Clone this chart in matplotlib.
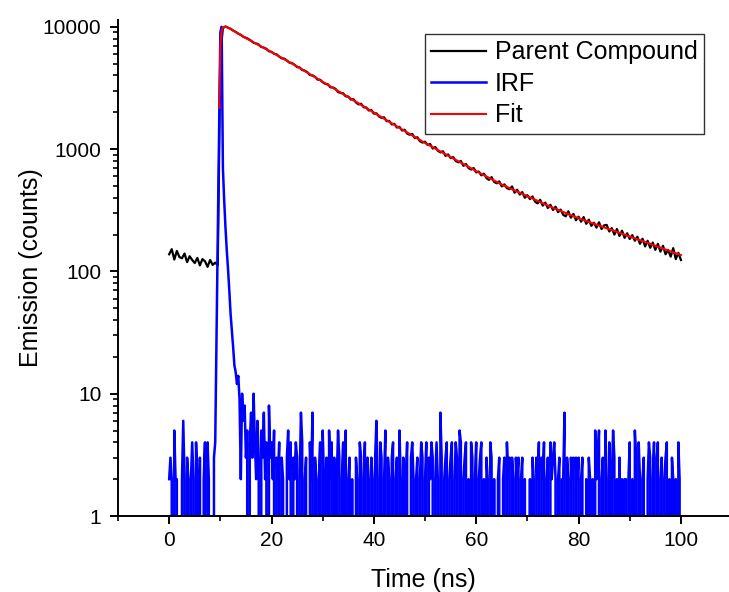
import numpy as np
import matplotlib
matplotlib.use("Agg")
import matplotlib.pyplot as plt
from matplotlib.ticker import LogLocator, MultipleLocator, NullFormatter

plt.rcParams['font.family'] = ['Liberation Sans', 'DejaVu Sans']

# ------------------------------------------
# Data
# ------------------------------------------

# Parent compound decay, one value every 0.5 ns from 0 to 100 ns
parent_step = 0.5
parent_counts = [
    138, 152, 125, 147, 131, 128, 140, 119, 133, 124,
    117, 129, 112, 126, 121, 109, 124, 113, 118, 112,
    6000, 9750, 10080, 9820, 9640, 9320, 9080, 8790, 8600, 8280,
    8130, 7950, 7700, 7390, 7310, 7150, 6840, 6760, 6600, 6310,
    6240, 6010, 5950, 5700, 5520, 5490, 5300, 5090, 5050, 4890,
    4680, 4650, 4430, 4380, 4250, 4030, 4010, 3900, 3700, 3690,
    3520, 3420, 3390, 3200, 3190, 3110, 2930, 2880, 2860, 2700,
    2690, 2540, 2560, 2410, 2320, 2350, 2200, 2190, 2070, 2090,
    1950, 1960, 1850, 1800, 1820, 1690, 1700, 1590, 1610, 1500,
    1520, 1420, 1440, 1340, 1310, 1330, 1230, 1250, 1160, 1130,
    1150, 1080, 1100, 1010, 1040, 970, 940, 960, 880, 905,
    845, 860, 800, 780, 800, 730, 755, 700, 680, 700,
    645, 655, 610, 630, 580, 560, 590, 540, 525, 545,
    495, 515, 480, 470, 495, 440, 465, 425, 445, 400,
    420, 390, 410, 372, 360, 385, 345, 365, 330, 350,
    318, 338, 305, 320, 290, 282, 310, 275, 295, 262,
    280, 255, 278, 245, 265, 236, 250, 228, 252, 222,
    238, 240, 212, 226, 200, 222, 195, 215, 188, 205,
    184, 198, 178, 192, 168, 185, 160, 178, 156, 172,
    150, 168, 145, 162, 138, 150, 132, 155, 126, 142,
    124,
]

# Instrument response, one value every 0.25 ns from 0 to 100 ns
irf_step = 0.25
irf_counts = [
    2, 3, 2, 0, 5, 2, 2, 0, 0, 0, 2, 6, 2, 0, 3, 2, 0, 2, 4, 2,
    0, 4, 2, 0, 3, 0, 0, 2, 4, 0, 4, 2, 0, 0, 0, 3, 4, 30, 200, 1400,
    9000, 10000, 700, 380, 230, 150, 105, 70, 45, 33, 24, 17, 15, 12, 14, 9, 2, 10, 6, 8,
    3, 5, 0, 4, 7, 3, 10, 4, 2, 6, 3, 0, 5, 3, 7, 2, 4, 0, 8, 3,
    4, 2, 5, 0, 3, 2, 4, 0, 3, 2, 0, 0, 3, 5, 2, 4, 0, 3, 2, 4,
    3, 0, 2, 7, 4, 0, 2, 3, 0, 0, 4, 2, 7, 0, 3, 2, 0, 2, 4, 0,
    5, 2, 0, 3, 0, 5, 2, 4, 0, 3, 0, 2, 5, 3, 0, 2, 4, 0, 5, 0,
    2, 3, 0, 2, 0, 0, 3, 2, 0, 4, 3, 0, 2, 4, 0, 3, 2, 0, 3, 2,
    0, 3, 6, 2, 0, 4, 3, 0, 2, 5, 0, 3, 2, 0, 3, 4, 0, 2, 3, 0,
    5, 2, 0, 3, 0, 2, 4, 0, 0, 3, 4, 2, 0, 2, 3, 0, 2, 4, 3, 0,
    2, 4, 0, 3, 2, 4, 3, 0, 2, 4, 2, 0, 7, 3, 0, 2, 3, 4, 0, 2,
    3, 4, 0, 2, 4, 3, 0, 5, 4, 0, 2, 3, 4, 0, 2, 0, 4, 3, 0, 2,
    4, 0, 2, 3, 4, 0, 2, 0, 3, 2, 0, 4, 3, 0, 2, 0, 0, 2, 3, 0,
    0, 2, 3, 0, 4, 2, 3, 0, 3, 2, 0, 3, 2, 3, 0, 2, 3, 0, 2, 0,
    0, 0, 2, 0, 3, 2, 0, 3, 2, 4, 0, 3, 2, 4, 0, 2, 3, 0, 4, 2,
    3, 4, 2, 0, 2, 3, 0, 2, 2, 7, 0, 3, 2, 0, 3, 2, 3, 0, 3, 2,
    3, 0, 2, 3, 0, 0, 2, 0, 3, 2, 0, 2, 0, 5, 2, 3, 5, 0, 2, 3,
    0, 5, 2, 0, 4, 0, 2, 5, 3, 0, 2, 0, 3, 0, 2, 0, 2, 2, 0, 2,
    4, 0, 2, 0, 5, 3, 0, 4, 2, 0, 2, 3, 0, 0, 2, 4, 3, 0, 2, 4,
    0, 3, 4, 0, 2, 3, 0, 2, 3, 4, 0, 2, 0, 3, 2, 0, 2, 0, 4, 2,
    0,
]

# Fit curve
fit_time = [9.8, 10.0, 10.2, 10.5, 11, 11.5, 12, 13, 14, 15, 20, 25, 30, 35,
            40, 45, 50, 55, 60, 65, 70, 75, 80, 85, 90, 95, 100]
fit_counts = [2170, 7000, 9000, 9800, 10000, 9850, 9600, 9050, 8550, 8080,
              6210, 4740, 3550, 2660, 1990, 1490, 1122, 861, 661, 513, 412,
              331, 272, 229, 193, 162, 136]

parent_time = np.arange(len(parent_counts)) * parent_step
irf_time = np.arange(len(irf_counts)) * irf_step

# ------------------------------------------
# Plot
# ------------------------------------------

fig = plt.figure(figsize=(7.29, 5.92), dpi=100)
ax = fig.add_axes([118 / 729, 1 - 516 / 592, (729 - 118) / 729, (516 - 20) / 592])

ax.plot(parent_time, parent_counts, color='black', lw=1.6, label='Parent Compound')
ax.plot(irf_time, irf_counts, color='#0000ff', lw=1.8, label='IRF')
ax.plot(fit_time, fit_counts, color='#ff0000', lw=1.5, label='Fit')

ax.set_yscale('log')
ax.set_xlim(-10, 109.4)
ax.set_ylim(1, 11365)

ax.set_xticks([0, 20, 40, 60, 80, 100])
ax.xaxis.set_minor_locator(MultipleLocator(10))
ax.yaxis.set_minor_locator(LogLocator(base=10, subs=np.arange(2, 10)))
ax.yaxis.set_minor_formatter(NullFormatter())
ax.set_yticks([1, 10, 100, 1000, 10000])
ax.set_yticklabels(['1', '10', '100', '1000', '10000'])

ax.spines['top'].set_visible(False)
ax.spines['right'].set_visible(False)
ax.spines['left'].set_linewidth(1.4)
ax.spines['bottom'].set_linewidth(1.4)
ax.tick_params(which='major', direction='out', length=6, width=1.4, labelsize=15)
ax.tick_params(axis='y', which='major', pad=6)
ax.tick_params(axis='x', which='major', pad=5)
ax.tick_params(which='minor', direction='out', length=3.5, width=1.2)

ax.set_xlabel('Time (ns)', fontsize=18, labelpad=13)
ax.set_ylabel('Emission (counts)', fontsize=18, labelpad=0)

leg = ax.legend(loc='upper left', bbox_to_anchor=(425 / 729, 1 - 34 / 592),
                bbox_transform=fig.transFigure, fontsize=18, frameon=True,
                fancybox=False, handlelength=2.2, handletextpad=0.35,
                borderpad=0.25, labelspacing=0.3, borderaxespad=0)
leg.get_frame().set_edgecolor('black')
leg.get_frame().set_linewidth(1.0)

fig.savefig('out.png', dpi=100)
